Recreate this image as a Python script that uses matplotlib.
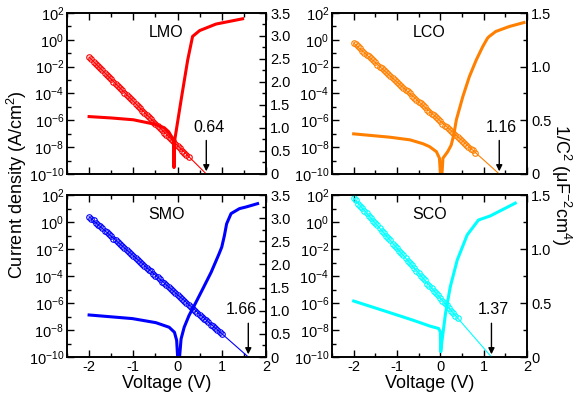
import matplotlib
matplotlib.use("Agg")
import matplotlib.pyplot as plt
from matplotlib.ticker import FixedLocator, LogFormatterMathtext, MultipleLocator, NullFormatter

plt.rcParams["font.family"] = ["Liberation Sans", "DejaVu Sans"]
plt.rcParams["mathtext.fontset"] = "custom"
plt.rcParams["mathtext.rm"] = "Liberation Sans"
plt.rcParams["mathtext.it"] = "Liberation Sans:italic"
plt.rcParams["mathtext.bf"] = "Liberation Sans:bold"
plt.rcParams["axes.unicode_minus"] = False

# bias points of the C-V sweep (V)
bias = [-2.00, -1.95, -1.90, -1.85, -1.80, -1.75, -1.70, -1.65, -1.60, -1.55,
        -1.50, -1.45, -1.40, -1.35, -1.30, -1.25, -1.20, -1.15, -1.10, -1.05,
        -1.00, -0.95, -0.90, -0.85, -0.80, -0.75, -0.70, -0.65, -0.60, -0.55,
        -0.50, -0.45, -0.40, -0.35, -0.30, -0.25, -0.20, -0.15, -0.10, -0.05,
        0.00, 0.05, 0.10, 0.15, 0.20, 0.25, 0.30, 0.35, 0.40, 0.45,
        0.50, 0.55, 0.60, 0.65, 0.70, 0.75, 0.80, 0.85, 0.90, 0.95, 1.00]

# 1/C^2 (uF^-2 cm^4), right axis
lmo_invc2 = [2.54, 2.49, 2.44, 2.40, 2.35, 2.30, 2.25, 2.20, 2.15, 2.11,
             2.06, 2.01, 1.96, 1.91, 1.87, 1.82, 1.77, 1.72, 1.67, 1.62,
             1.58, 1.53, 1.48, 1.43, 1.38, 1.33, 1.28, 1.24, 1.19, 1.14,
             1.09, 1.04, 0.99, 0.95, 0.90, 0.85, 0.80, 0.75, 0.71, 0.66,
             0.61, 0.56, 0.51, 0.46, 0.41, 0.37]
lco_invc2 = [1.22, 1.21, 1.19, 1.17, 1.15, 1.13, 1.11, 1.10, 1.08, 1.06,
             1.04, 1.02, 1.00, 0.99, 0.97, 0.95, 0.93, 0.91, 0.89, 0.88,
             0.86, 0.84, 0.82, 0.80, 0.78, 0.77, 0.75, 0.73, 0.71, 0.69,
             0.67, 0.66, 0.64, 0.62, 0.60, 0.58, 0.56, 0.55, 0.53, 0.51,
             0.49, 0.47, 0.45, 0.44, 0.42, 0.40, 0.38, 0.36, 0.34, 0.33,
             0.31, 0.29, 0.27, 0.25, 0.23, 0.22, 0.20]
smo_invc2 = [3.03, 2.99, 2.95, 2.90, 2.86, 2.82, 2.78, 2.73, 2.69, 2.65,
             2.61, 2.56, 2.52, 2.48, 2.44, 2.40, 2.35, 2.31, 2.27, 2.23,
             2.18, 2.14, 2.10, 2.06, 2.01, 1.97, 1.93, 1.89, 1.85, 1.80,
             1.76, 1.72, 1.68, 1.63, 1.59, 1.55, 1.51, 1.46, 1.42, 1.38,
             1.34, 1.30, 1.25, 1.21, 1.17, 1.13, 1.08, 1.04, 1.00, 0.96,
             0.91, 0.87, 0.83, 0.79, 0.75, 0.70, 0.66, 0.62, 0.58, 0.53, 0.49]
sco_invc2 = [1.47, 1.45, 1.42, 1.40, 1.38, 1.35, 1.33, 1.31, 1.29, 1.26,
             1.24, 1.22, 1.19, 1.17, 1.15, 1.12, 1.10, 1.08, 1.05, 1.03,
             1.01, 0.98, 0.96, 0.94, 0.92, 0.89, 0.87, 0.85, 0.82, 0.80,
             0.78, 0.75, 0.73, 0.71, 0.68, 0.66, 0.64, 0.61, 0.59, 0.57,
             0.55, 0.52, 0.50, 0.48, 0.45, 0.43, 0.41, 0.38, 0.36]

# where the Mott-Schottky fit reaches zero, and the value printed next to it
lmo_vfb, lco_vfb, smo_vfb, sco_vfb = 0.65, 1.36, 1.60, 1.18
vfb_text = ["0.64", "1.16", "1.66", "1.37"]

# J-V curves, |J| in A/cm^2
lmo_v = [-2.0, -1.5, -1.0, -0.5, -0.3, -0.2, -0.12, -0.09, -0.08, -0.07,
         0.08, 0.23, 0.34, 0.5, 0.87, 1.47]
lmo_j = [1.9e-6, 1.5e-6, 1.1e-6, 5e-7, 2.8e-7, 1.4e-7, 5e-8, 2.8e-8, 3e-10, 2.5e-8,
         3.2e-5, 3.2e-2, 1.8, 4.9, 15, 37]
lco_v = [-2.0, -1.16, -0.7, -0.4, -0.25, -0.09, -0.02, 0.02, 0.06, 0.17, 0.25,
         0.31, 0.37, 0.52, 0.67, 0.83, 0.98, 1.09, 1.13, 1.28, 1.59, 1.93]
lco_j = [9.8e-8, 5.5e-8, 3.5e-8, 1.8e-8, 1.1e-8, 4.6e-9, 1.5e-9, 1e-11, 1.5e-9, 4.6e-9, 1.4e-8,
         8.1e-8, 1.1e-6, 5.9e-5, 1.8e-3, 3.2e-2, 0.32, 1.35, 1.8, 4.2, 9.8, 19.5]
smo_v = [-2.0, -1.02, -0.49, -0.19, -0.07, -0.02, 0.02, 0.08, 0.15, 0.26, 0.38,
         0.57, 0.76, 0.94, 1.0, 1.06, 1.11, 1.21, 1.40, 1.55, 1.81]
smo_j = [1.3e-7, 7e-8, 3.5e-8, 1.6e-8, 6.8e-9, 1.7e-9, 1e-11, 2.2e-9, 1.6e-8, 1.2e-7, 6.6e-7,
         1.1e-5, 1.9e-4, 4.5e-3, 1.4e-2, 0.1, 0.74, 4.2, 9.8, 13, 23]
sco_v = [-2.0, -1.39, -1.0, -0.62, -0.23, -0.04, 0.0, 0.01, 0.03, 0.04, 0.12, 0.23,
         0.39, 0.62, 0.88, 1.15, 1.73]
sco_j = [1.4e-6, 3.3e-7, 1.3e-7, 5.2e-8, 1.9e-8, 1.3e-8, 7.2e-9, 2.5e-10, 1e-9, 1.7e-9,
         1.7e-7, 1.6e-5, 1.5e-3, 0.11, 1.4, 2.8, 25]

names = ["LMO", "LCO", "SMO", "SCO"]
colors = ["#ff0000", "#ff8000", "#0000ff", "#00ffff"]

fig = plt.figure(figsize=(5.8, 4.05), dpi=100)

rects = [[0.1155, 0.5704, 0.3431, 0.3975],
         [0.5724, 0.5704, 0.3362, 0.3975],
         [0.1155, 0.1185, 0.3431, 0.4],
         [0.5724, 0.1185, 0.3362, 0.4]]
right_top = [3.5, 1.5, 3.5, 1.5]
label_shift = [0.06, 0.05, -0.15, 0.05]

panels = [
    (lmo_v, lmo_j, lmo_invc2, lmo_vfb),
    (lco_v, lco_j, lco_invc2, lco_vfb),
    (smo_v, smo_j, smo_invc2, smo_vfb),
    (sco_v, sco_j, sco_invc2, sco_vfb),
]

for i, (jv_v, jv_j, invc2, vfb) in enumerate(panels):
    c = colors[i]
    ax = fig.add_axes(rects[i])
    ax2 = ax.twinx()

    ax.plot(jv_v, jv_j, color=c, lw=2.2, solid_joinstyle="round")
    ax.set_yscale("log")
    ax.set_ylim(1e-10, 1e2)
    ax.set_xlim(-2.5, 2)
    ax.yaxis.set_major_locator(FixedLocator([1e-10, 1e-8, 1e-6, 1e-4, 1e-2, 1e0, 1e2]))
    ax.yaxis.set_minor_locator(FixedLocator([1e-9, 1e-7, 1e-5, 1e-3, 1e-1, 1e1]))
    ax.yaxis.set_major_formatter(LogFormatterMathtext())
    ax.yaxis.set_minor_formatter(NullFormatter())
    ax.xaxis.set_major_locator(MultipleLocator(1))
    ax.xaxis.set_minor_locator(MultipleLocator(0.5))
    ax.tick_params(which="both", direction="in", top=True, right=False, width=1,
                   labelsize=10.5, pad=2)
    ax.tick_params(which="major", length=5)
    ax.tick_params(which="minor", length=3)

    vv = bias[:len(invc2)]
    ax2.plot(vv, invc2, "o", mfc="none", mec=c, ms=4, mew=0.8)
    ax2.plot([bias[0], vfb], [invc2[0], 0], color=c, lw=0.8)
    ax2.set_ylim(0, right_top[i])
    ax2.yaxis.set_major_locator(MultipleLocator(0.5))
    ax2.yaxis.set_minor_locator(MultipleLocator(0.25))
    ax2.tick_params(which="both", direction="in", width=1, labelsize=10.5, pad=3)
    ax2.tick_params(which="major", length=5)
    ax2.tick_params(which="minor", length=3)
    ax2.yaxis.set_major_formatter(matplotlib.ticker.FuncFormatter(
        lambda y, p: "0" if y == 0 else f"{y:.1f}"))

    for a in (ax, ax2):
        for s in a.spines.values():
            s.set_linewidth(1.2)

    if i < 2:
        ax.set_xticklabels([])
    else:
        ax.set_xlabel("Voltage (V)", fontsize=13, labelpad=1)

    ax.text(0.5, 0.88, names[i], transform=ax.transAxes, ha="center", va="center",
            fontsize=11.5)
    ax.annotate("", xy=(vfb, 10 ** -9.8), xytext=(vfb, 10 ** -7.5),
                arrowprops=dict(arrowstyle="-|>", color="k", lw=1, mutation_scale=9,
                                shrinkA=0, shrinkB=0))
    ax.text(vfb + label_shift[i], 10 ** -6.5, vfb_text[i], ha="center", va="center",
            fontsize=11.5)

fig.text(0.029, 0.543, "Current density (A/cm$^2$)", rotation=90, ha="center",
         va="center", fontsize=13)
fig.text(0.968, 0.543, "1/C$^2$ (μF$^{-2}$cm$^4$)", rotation=270, ha="center",
         va="center", fontsize=13)

fig.savefig("out.png", dpi=100)
